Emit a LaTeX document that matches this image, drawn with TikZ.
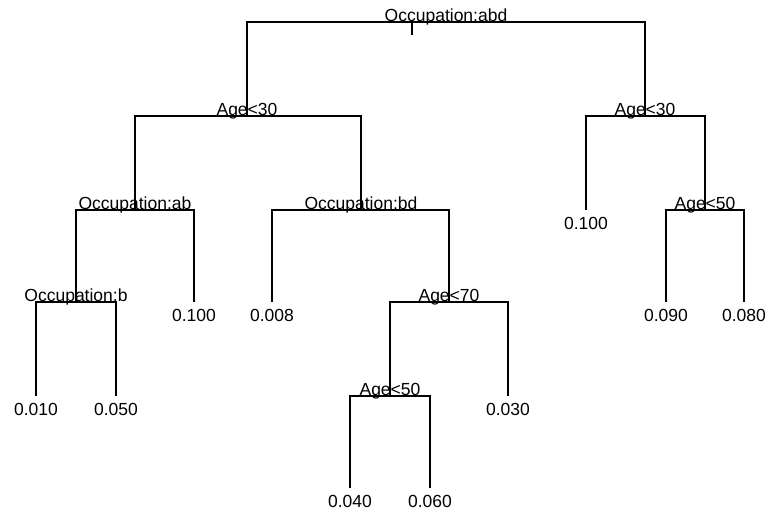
\documentclass[tikz,border=0pt]{standalone}
\usepackage{fontspec}
\setmainfont{Liberation Sans}
\usepackage{tikz}
\def\leaf#1#2{\node[leaf] at (#2) {#1}}
\def\rule#1#2{\node[rule] at (#2) {#1}}
\tikzstyle{treefont}=[font=\fontsize{17.5}{20}\selectfont]
\tikzstyle{branch}=[line width=1.6pt]
\tikzstyle{rule}=[treefont,anchor=base,inner sep=0pt,yshift=1pt]
\tikzstyle{leaf}=[treefont,anchor=north,inner sep=0pt,yshift=-7pt]

\begin{document}
\begin{tikzpicture}[x=1pt,y=-1pt]
    \useasboundingbox (0,0) rectangle (770,514);
    % splits
    \coordinate (root) at (446,22);
    \coordinate (agea) at (247,116);
    \coordinate (ageb) at (645,116);
    \coordinate (occab) at (135,210);
    \coordinate (occbd) at (361,210);
    \coordinate (occb) at (76,302);
    \coordinate (agec) at (449,302);
    \coordinate (aged) at (390,396);
    \coordinate (agee) at (705,210);
    % leaves
    \coordinate (leafa) at (36,396);
    \coordinate (leafb) at (116,396);
    \coordinate (leafc) at (194,302);
    \coordinate (leafd) at (272,302);
    \coordinate (leafe) at (350,488);
    \coordinate (leaff) at (430,488);
    \coordinate (leafg) at (508,396);
    \coordinate (leafh) at (586,210);
    \coordinate (leafi) at (666,302);
    \coordinate (leafj) at (744,302);
    \coordinate (tick) at (412,35);

    \draw[branch] (agea) |- (root) -| (ageb);
    \draw[branch] (412,22) -- (tick);
    \draw[branch] (occab) |- (agea) -| (occbd);
    \draw[branch] (occb) |- (occab) -| (leafc);
    \draw[branch] (leafa) |- (occb) -| (leafb);
    \draw[branch] (leafd) |- (occbd) -| (agec);
    \draw[branch] (aged) |- (agec) -| (leafg);
    \draw[branch] (leafe) |- (aged) -| (leaff);
    \draw[branch] (leafh) |- (ageb) -| (agee);
    \draw[branch] (leafi) |- (agee) -| (leafj);

    \rule{Occupation:abd}{root};
    \rule{Age<30}{agea};
    \rule{Age<30}{ageb};
    \rule{Occupation:ab}{occab};
    \rule{Occupation:bd}{occbd};
    \rule{Occupation:b}{occb};
    \rule{Age<70}{agec};
    \rule{Age<50}{aged};
    \rule{Age<50}{agee};

    \leaf{0.010}{leafa};
    \leaf{0.050}{leafb};
    \leaf{0.100}{leafc};
    \leaf{0.008}{leafd};
    \leaf{0.040}{leafe};
    \leaf{0.060}{leaff};
    \leaf{0.030}{leafg};
    \leaf{0.100}{leafh};
    \leaf{0.090}{leafi};
    \leaf{0.080}{leafj};
\end{tikzpicture}
\end{document}
